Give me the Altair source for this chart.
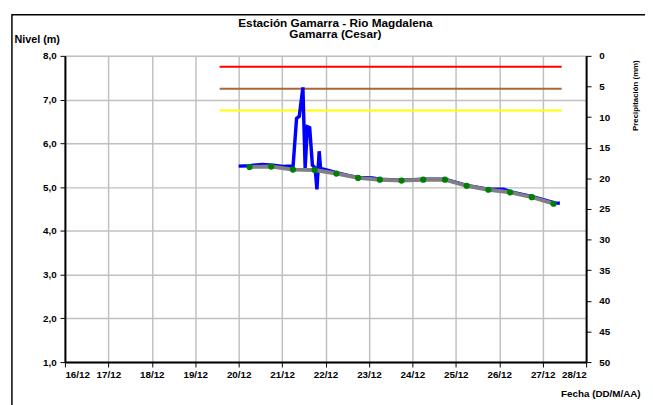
import altair as alt
import pandas as pd

# ---------------- data ----------------
# Observed level (blue line)
blue_times = [
    "2023-12-20T00:00Z", "2023-12-20T06:00Z", "2023-12-20T13:00Z", "2023-12-20T19:00Z",
    "2023-12-21T00:30Z", "2023-12-21T05:00Z", "2023-12-21T06:00Z", "2023-12-21T08:00Z",
    "2023-12-21T09:30Z", "2023-12-21T11:30Z", "2023-12-21T12:45Z", "2023-12-21T14:00Z",
    "2023-12-21T15:15Z", "2023-12-21T16:45Z", "2023-12-21T18:15Z", "2023-12-21T19:15Z",
    "2023-12-21T20:30Z", "2023-12-21T21:15Z", "2023-12-22T00:00Z", "2023-12-22T05:00Z",
    "2023-12-22T13:00Z", "2023-12-22T18:00Z", "2023-12-23T02:00Z", "2023-12-23T06:00Z",
    "2023-12-23T18:00Z", "2023-12-24T06:00Z", "2023-12-24T18:00Z", "2023-12-25T06:00Z",
    "2023-12-25T18:00Z", "2023-12-26T02:30Z", "2023-12-26T06:30Z", "2023-12-26T18:30Z",
    "2023-12-27T06:45Z", "2023-12-27T09:30Z",
]
blue_levels = [
    5.48, 5.49, 5.52, 5.50,
    5.47, 5.48, 5.44, 6.57,
    6.62, 7.28, 5.44, 6.38,
    6.36, 5.50, 5.44, 4.95,
    5.82, 5.43, 5.40, 5.34,
    5.26, 5.22, 5.21, 5.18,
    5.16, 5.18, 5.18, 5.04,
    4.95, 4.95, 4.89, 4.78,
    4.64, 4.63,
]

# 12-hourly readings (grey line + green dots)
read_times = [
    "2023-12-20T06:00Z", "2023-12-20T18:00Z", "2023-12-21T06:00Z", "2023-12-21T18:00Z",
    "2023-12-22T06:00Z", "2023-12-22T18:00Z", "2023-12-23T06:00Z", "2023-12-23T18:00Z",
    "2023-12-24T06:00Z", "2023-12-24T18:00Z", "2023-12-25T06:00Z", "2023-12-25T18:00Z",
    "2023-12-26T06:00Z", "2023-12-26T18:00Z", "2023-12-27T06:00Z",
]
read_levels = [5.46, 5.47, 5.40, 5.39, 5.31, 5.21, 5.17, 5.15,
               5.17, 5.17, 5.03, 4.94, 4.88, 4.77, 4.62]

# Alert thresholds
threshold_names = ["Roja", "Naranja", "Amarilla"]
threshold_levels = [7.75, 7.25, 6.75]
threshold_colors = ["#ff0000", "#a5693c", "#ffff00"]
threshold_start = "2023-12-19T13:30Z"
threshold_end = "2023-12-27T10:30Z"

# Precipitation (none recorded in the period)
precip_times = ["2023-12-20T00:00Z", "2023-12-24T00:00Z"]
precip_mm = [0, 0]

x_tick_days = [16, 17, 18, 19, 20, 21, 22, 23, 24, 25, 26, 27, 28]
y_ticks = [1.0, 1.5, 2.0, 2.5, 3.0, 3.5, 4.0, 4.5, 5.0, 5.5, 6.0, 6.5, 7.0, 7.5, 8.0]
precip_ticks = [0, 5, 10, 15, 20, 25, 30, 35, 40, 45, 50]

# ---------------- tables ----------------
blue_df = pd.DataFrame({"t": blue_times, "nivel": blue_levels})
read_df = pd.DataFrame({"t": read_times, "nivel": read_levels})
thr_df = pd.DataFrame({"alerta": threshold_names, "nivel": threshold_levels,
                       "t0": [threshold_start] * 3, "t1": [threshold_end] * 3})
precip_df = pd.DataFrame({"t": precip_times, "mm": precip_mm})
frame_df = pd.DataFrame({"k": [0]})

FONT = "Liberation Sans"
x_domain = [alt.DateTime(year=2023, month=12, date=16, utc=True),
            alt.DateTime(year=2023, month=12, date=28, utc=True)]
x_scale = alt.Scale(type="utc", domain=x_domain)
x_axis = alt.Axis(
    values=[alt.DateTime(year=2023, month=12, date=d, utc=True) for d in x_tick_days],
    labelExpr="utcFormat(datum.value, '%d/%m')",
    grid=True, gridColor="#c0c0c0", gridWidth=1.5,
    domainColor="black", domainWidth=2, tickColor="black", tickSize=5, tickWidth=1,
    labelFont=FONT, labelFontWeight="bold", labelFontSize=10, labelColor="black",
    labelPadding=3, labelOverlap=False,
    title="Fecha (DD/M/AA)", titleFont=FONT, titleFontWeight="bold", titleFontSize=10,
    titleColor="black", titleAlign="right", titleAnchor="end", titleBaseline="middle",
    titleX=586, titleY=32,
)
y_scale = alt.Scale(domain=[1, 8], nice=False, zero=False)
y_axis = alt.Axis(
    values=y_ticks,
    labelExpr="datum.value % 1 == 0 ? replace(format(datum.value, '.1f'), '.', ',') : ''",
    grid=True, gridColor="#c0c0c0", gridWidth=1.5,
    domainColor="black", domainWidth=2,
    tickColor="black", tickSize=5, tickWidth=1,
    tickOpacity={"condition": {"test": "datum.value % 1 == 0", "value": 1}, "value": 0},
    labelFont=FONT, labelFontWeight="bold", labelFontSize=10, labelColor="black",
    labelPadding=4,
    title="Nivel (m)", titleFont=FONT, titleFontWeight="bold", titleFontSize=11,
    titleColor="black", titleAngle=0, titleAlign="left", titleBaseline="middle",
    titleX=-52, titleY=-17,
)

frame = alt.Chart(frame_df).mark_rect(
    fillOpacity=0, stroke="black", strokeWidth=1.5, clip=False
).encode(x=alt.value(-54), x2=alt.value(800), y=alt.value(-42), y2=alt.value(700))

thresholds = alt.Chart(thr_df).mark_rule(strokeWidth=2).encode(
    x=alt.X("t0:T", scale=x_scale, axis=x_axis),
    x2="t1:T",
    y=alt.Y("nivel:Q", scale=y_scale, axis=y_axis),
    color=alt.Color("alerta:N", scale=alt.Scale(domain=threshold_names, range=threshold_colors),
                    legend=None),
)

blue = alt.Chart(blue_df).mark_line(color="#0000ff", strokeWidth=3.5).encode(
    x=alt.X("t:T", scale=x_scale), y=alt.Y("nivel:Q", scale=y_scale))

grey = alt.Chart(read_df).mark_line(color="#808080", strokeWidth=4).encode(
    x=alt.X("t:T", scale=x_scale), y=alt.Y("nivel:Q", scale=y_scale))

dots = alt.Chart(read_df).mark_circle(color="#008000", size=40, opacity=1).encode(
    x=alt.X("t:T", scale=x_scale), y=alt.Y("nivel:Q", scale=y_scale))

levels = alt.layer(frame, thresholds, blue, grey, dots)

precip = alt.Chart(precip_df).mark_rule(opacity=0).encode(
    x=alt.X("t:T", scale=x_scale),
    y=alt.Y("mm:Q", scale=alt.Scale(domain=[0, 50], reverse=True, nice=False),
            axis=alt.Axis(
                orient="right", values=precip_ticks, grid=False,
                domainColor="black", domainWidth=2, tickColor="black", tickSize=5,
                labelFont=FONT, labelFontWeight="bold", labelFontSize=10,
                labelColor="black", labelPadding=8,
                title="Precipitación (mm)", titleFont=FONT, titleFontWeight="bold",
                titleFontSize=8, titleColor="black", titleAngle=270,
                titleAlign="center", titleBaseline="middle", titleX=50, titleY=40,
            )),
)

chart = alt.layer(levels, precip).resolve_scale(y="independent").properties(
    width=531, height=312,
    autosize=alt.AutoSizeParams(type="none"),
    padding={"left": 58, "top": 45, "right": 60, "bottom": 43},
    title=alt.TitleParams(
        text="Estación Gamarra - Rio Magdalena", subtitle="Gamarra (Cesar)",
        font=FONT, subtitleFont=FONT, fontSize=12, subtitleFontSize=12,
        fontWeight="bold", subtitleFontWeight="bold", color="black", subtitleColor="black",
        anchor="middle", frame="group", offset=2, subtitlePadding=0, dy=30, dx=10,
    ),
).configure_view(stroke="black", strokeWidth=1).configure(background="white")

chart.save("out.html", embed_options={"renderer": "svg", "actions": False})
